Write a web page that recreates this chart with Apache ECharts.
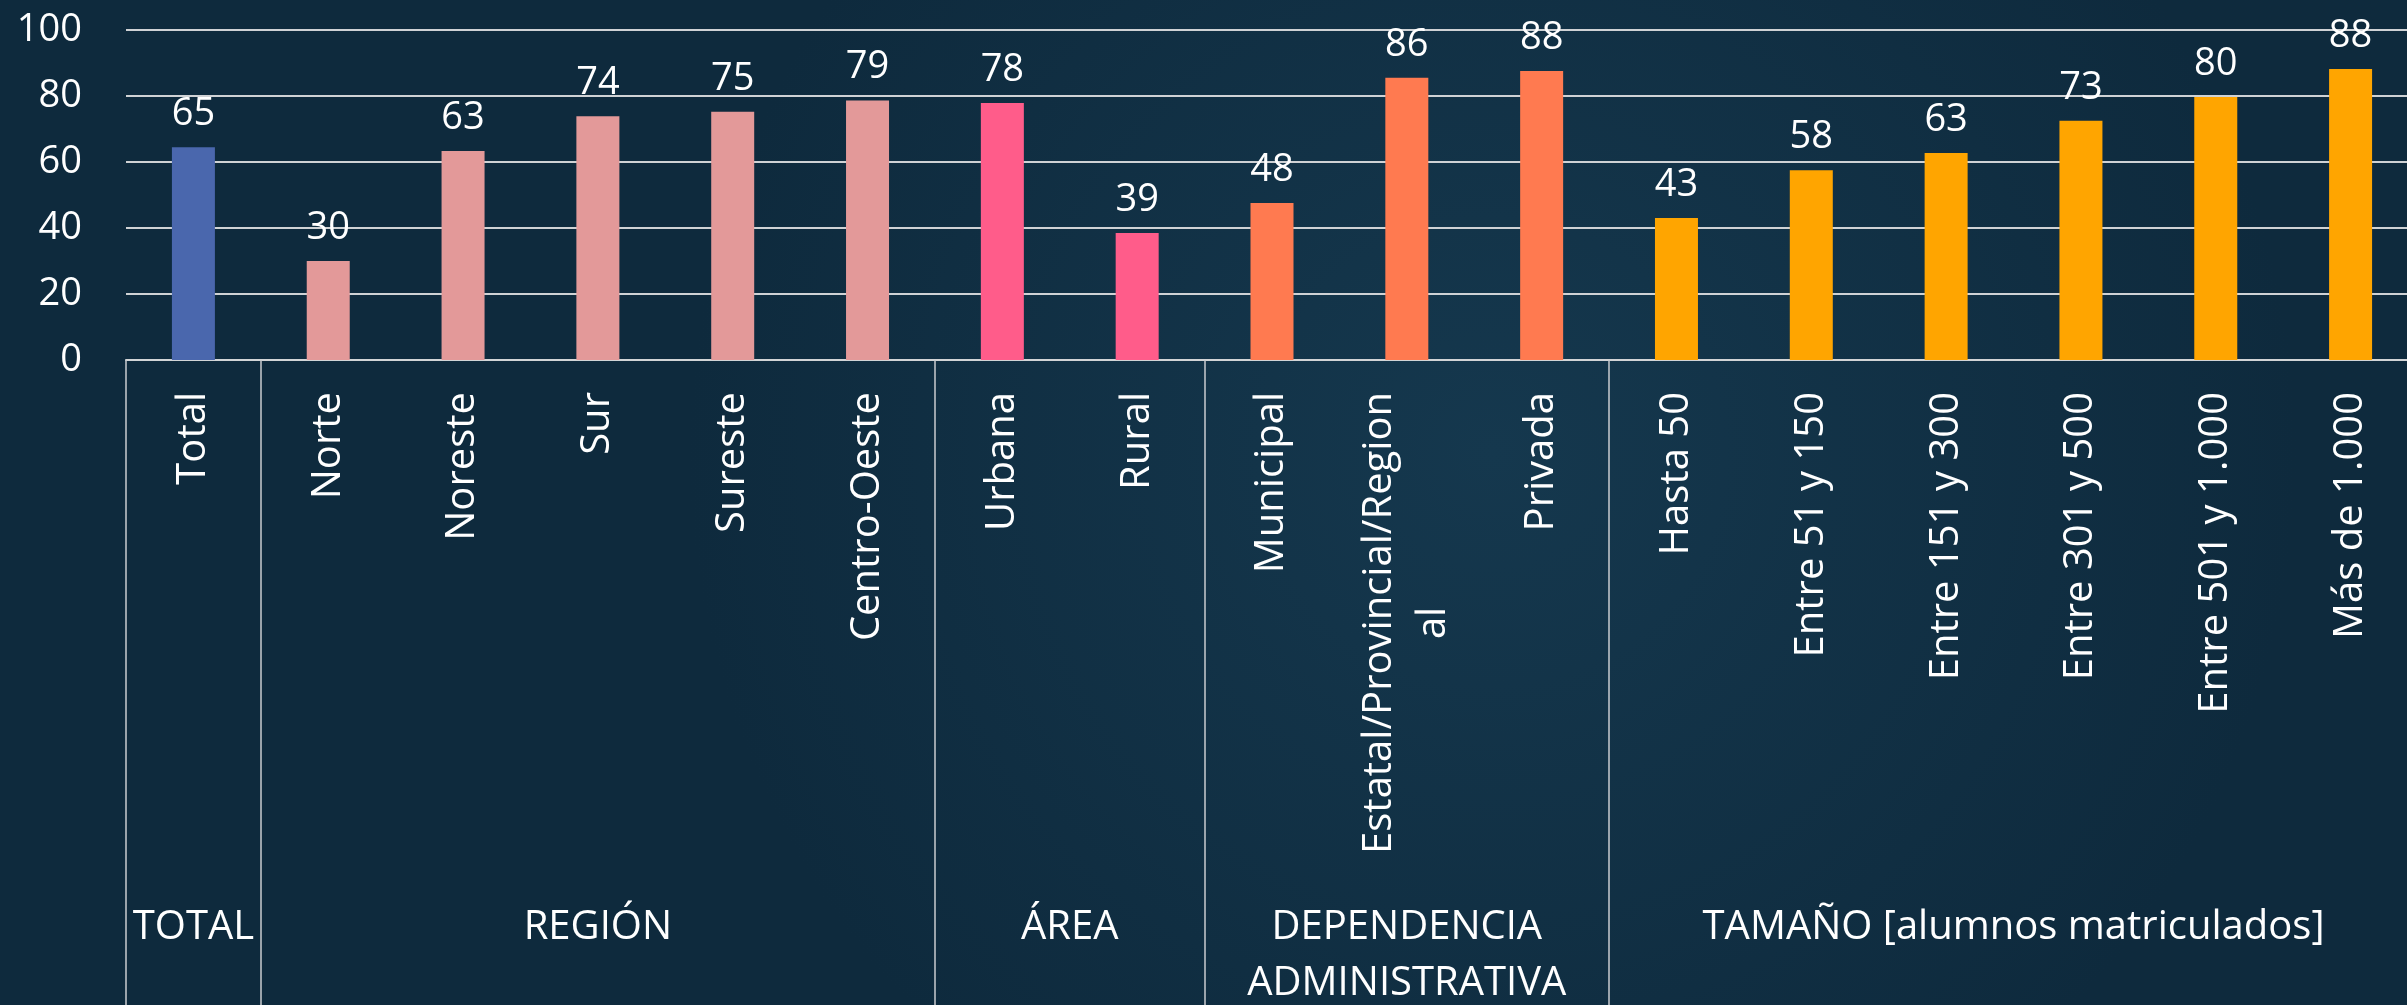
<!DOCTYPE html>
<html><head><meta charset="utf-8">
<script src="https://cdn.jsdelivr.net/npm/echarts@6/dist/echarts.min.js"></script>
<style>html,body{margin:0;padding:0;background:#102d42;overflow:hidden}#chart{width:2407px;height:1005px}</style>
</head><body><div id="chart"></div>
<script>
const categories = ['Total','Norte','Noreste','Sur','Sureste','Centro-Oeste','Urbana','Rural','Municipal','Estatal/Provincial/Regional','Privada','Hasta 50','Entre 51 y 150','Entre 151 y 300','Entre 301 y 500','Entre 501 y 1.000','Más de 1.000'];
const values = [64.5, 30.0, 63.3, 73.9, 75.2, 78.6, 77.9, 38.5, 47.6, 85.5, 87.6, 43.0, 57.5, 62.7, 72.5, 79.7, 88.2];
const groupNames = ['TOTAL', 'REGIÓN', 'ÁREA', 'DEPENDENCIA\nADMINISTRATIVA', 'TAMAÑO [alumnos matriculados]'];
const groupSizes = [1, 5, 2, 3, 6];
const groupColors = ['#4a67ad', '#e39999', '#ff5c8a', '#ff7a50', '#ffa500'];
const yMin = 0, yMax = 100, yStep = 20;

const FONT = "'Open Sans', 'Noto Sans', sans-serif";
const groupOf = [];
const groupStarts = [];
const groupCenters = {};
let acc = 0;
groupSizes.forEach((s, g) => {
  groupStarts.push(acc);
  groupCenters[acc + s / 2] = groupNames[g];
  for (let k = 0; k < s; k++) groupOf.push(g);
  acc += s;
});

const chart = echarts.init(document.getElementById('chart'), null, {renderer: 'canvas'});
const gridL = 126, gridR = -11;
chart.setOption({
  backgroundColor: {type: 'radial', x: 0.62, y: 0.45, r: 0.8,
    colorStops: [{offset: 0, color: '#15384e'}, {offset: 1, color: '#0e2a3d'}]},
  animation: false,
  textStyle: {fontFamily: FONT},
  grid: [
    {left: gridL, right: gridR, top: 30, bottom: 645, outerBoundsMode: 'none', containLabel: false},
    {left: gridL, right: gridR, top: 0, bottom: 115, outerBoundsMode: 'none', containLabel: false}
  ],
  xAxis: [
    {
      type: 'category', gridIndex: 0, data: categories,
      axisLine: {show: true, lineStyle: {color: '#d2d4d6', width: 2}},
      axisTick: {show: true, length: 660, interval: (i) => groupStarts.indexOf(i) >= 0,
        lineStyle: {color: '#c9cccf', width: 1.5}},
      axisLabel: {
        interval: 0, rotate: 90, margin: 32, color: '#ffffff', fontSize: 40, fontFamily: FONT,
        lineHeight: 54,
        formatter: (v) => v.length > 25 ? v.slice(0, 25) + '\n{c|' + v.slice(25) + '}' : v,
        rich: {c: {align: 'center', color: '#ffffff', fontSize: 40, fontFamily: FONT, lineHeight: 54}}
      }
    },
    {
      type: 'value', gridIndex: 1, min: 0, max: categories.length, interval: 0.5,
      axisLine: {show: false}, axisTick: {show: false}, splitLine: {show: false},
      axisLabel: {
        margin: 10, color: '#ffffff', fontSize: 40, fontFamily: FONT, lineHeight: 56,
        formatter: (v) => groupCenters[v] || ''
      }
    }
  ],
  yAxis: [
    {
      type: 'value', gridIndex: 0, min: yMin, max: yMax, interval: yStep,
      axisLine: {show: false}, axisTick: {show: false},
      splitLine: {lineStyle: {color: '#cfd2d5', width: 2}},
      axisLabel: {color: '#ffffff', fontSize: 38, fontFamily: FONT, margin: 44}
    },
    {type: 'value', gridIndex: 1, show: false, min: 0, max: 1}
  ],
  series: [{
    type: 'bar', xAxisIndex: 0, yAxisIndex: 0, barWidth: 43,
    data: values.map((v, i) => ({value: v, itemStyle: {color: groupColors[groupOf[i]]}})),
    label: {show: true, position: 'top', distance: 14, color: '#ffffff', fontSize: 38, fontFamily: FONT,
      formatter: (p) => String(Math.round(p.value))}
  }]
});
</script></body></html>
